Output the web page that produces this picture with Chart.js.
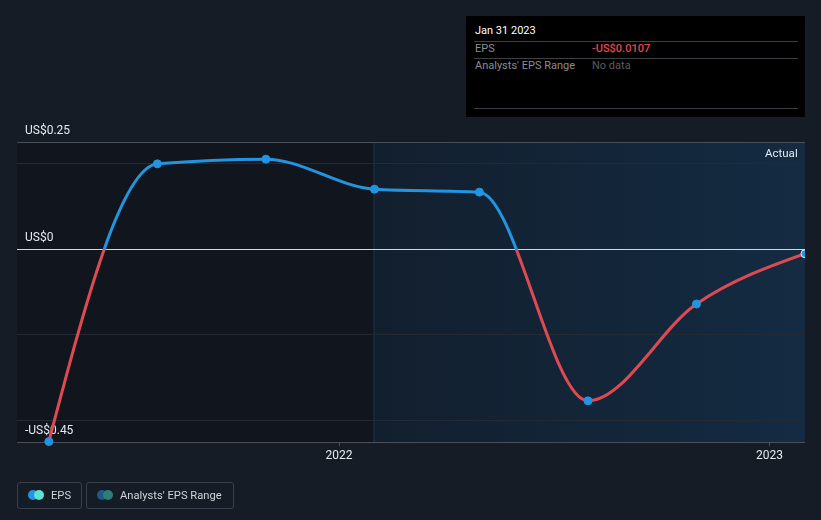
<!DOCTYPE html>
<html>
<head>
<meta charset="utf-8">
<script src="https://cdn.jsdelivr.net/npm/chart.js@4"></script>
<style>
  html, body { margin: 0; padding: 0; background: #161c26; }
  body { width: 821px; height: 520px; position: relative; overflow: hidden; font-family: Roboto, "Noto Sans", sans-serif; }
  #chart { position: absolute; left: 0; top: 0; }
  .actual { position: absolute; left: 765px; top: 146px; color: #e6e9ee; font-size: 11.5px; }
  .tip { position: absolute; left: 466px; top: 16px; width: 339px; height: 101px; background: #000; }
  .tip .title { position: absolute; left: 9px; top: 8px; color: #fff; font-size: 11px; }
  .tip .sep { position: absolute; left: 8px; width: 324px; height: 1px; background: #3c3f44; }
  .tip .lab { position: absolute; left: 9px; color: #8a8d92; font-size: 11px; }
  .tip .val { position: absolute; left: 126px; font-size: 11px; }
  .leg { position: absolute; top: 482px; height: 27px; border: 1px solid #3a404b; border-radius: 3px; color: #d0d3d8; font-size: 11.2px; line-height: 26px; box-sizing: border-box; }
  .dot { position: absolute; top: 7px; width: 10px; height: 10px; border-radius: 50%; }
</style>
</head>
<body>
<canvas id="chart" width="821" height="520"></canvas>
<div class="actual">Actual</div>
<div class="tip">
  <div class="title">Jan 31 2023</div>
  <div class="sep" style="top:25px"></div>
  <div class="lab" style="top:26px">EPS</div>
  <div class="val" style="top:26px;color:#e5484d;font-weight:500">-US$0.0107</div>
  <div class="sep" style="top:42px"></div>
  <div class="lab" style="top:43px">Analysts' EPS Range</div>
  <div class="val" style="top:43px;color:#5a5d62">No data</div>
  <div class="sep" style="top:92px"></div>
</div>
<div class="leg" style="left:17px;width:65px">
  <span class="dot" style="left:10px;background:#2394df"></span>
  <span class="dot" style="left:16px;background:#5de3d6"></span>
  <span style="position:absolute;left:33px">EPS</span>
</div>
<div class="leg" style="left:86px;width:148px">
  <span class="dot" style="left:10px;background:#1e5a86"></span>
  <span class="dot" style="left:16px;background:#2f7d7b"></span>
  <span style="position:absolute;left:33px">Analysts' EPS Range</span>
</div>
<script>
// period end dates and reported EPS (US$)
const dates = ['2021-04-30', '2021-07-31', '2021-10-31', '2022-01-31', '2022-04-30', '2022-07-31', '2022-10-31', '2023-01-31'];
const eps = [-0.449, 0.199, 0.210, 0.140, 0.133, -0.354, -0.128, -0.0107];

const xMinDate = '2021-04-03';
const xMaxDate = '2023-01-31';
const actualFrom = '2022-01-31';
const yearTicks = ['2022-01-01', '2023-01-01'];
const yearLabels = ['2022', '2023'];
const yTicks = [-0.45, -0.4, -0.2, 0, 0.2, 0.25];
const yLabels = { '-0.45': '-US$0.45', '0': 'US$0', '0.25': 'US$0.25' };

const BLUE = '#2394df';
const RED = '#df4a52';

const bgPlugin = {
  id: 'bg',
  beforeDraw(chart) {
    const { ctx, chartArea: a, scales } = chart;
    ctx.save();
    ctx.fillStyle = '#161c26';
    ctx.fillRect(0, 0, chart.width, chart.height);
    const sx = scales.x.getPixelForValue(Date.parse(actualFrom));
    ctx.fillStyle = '#11161e';
    ctx.fillRect(a.left, a.top, sx - a.left, a.bottom - a.top);
    const g = ctx.createLinearGradient(sx, 0, a.right, 0);
    g.addColorStop(0, '#121f2e');
    g.addColorStop(1, '#142b42');
    ctx.fillStyle = g;
    ctx.fillRect(sx, a.top, a.right - sx, a.bottom - a.top);
    ctx.fillStyle = '#1c3550';
    ctx.fillRect(Math.round(sx) - 0.5, a.top, 1, a.bottom - a.top);
    ctx.restore();
  }
};

// monotone-x curve with one-sided end slopes (steeper start like the original)
const curvePlugin = {
  id: 'curve',
  beforeDatasetsDraw(chart) {
    const meta = chart.getDatasetMeta(0);
    const pts = meta.data;
    const n = pts.length;
    if (n < 3) return;
    meta.dataset.updateControlPoints(chart.chartArea, 'x');
    const h = [], s = [], t = [];
    for (let i = 0; i < n - 1; i++) {
      h[i] = pts[i + 1].x - pts[i].x;
      s[i] = (pts[i + 1].y - pts[i].y) / h[i];
    }
    for (let i = 1; i < n - 1; i++) {
      const p = (s[i - 1] * h[i] + s[i] * h[i - 1]) / (h[i - 1] + h[i]);
      t[i] = (Math.sign(s[i - 1]) + Math.sign(s[i])) *
        Math.min(Math.abs(s[i - 1]), Math.abs(s[i]), 0.5 * Math.abs(p)) || 0;
    }
    t[0] = (3 * s[0] - t[1]) / 2;
    t[n - 1] = (3 * s[n - 2] - t[n - 2]) / 2;
    for (let i = 0; i < n - 1; i++) {
      const d = h[i] / 3;
      pts[i].cp2x = pts[i].x + d;
      pts[i].cp2y = pts[i].y + t[i] * d;
      pts[i + 1].cp1x = pts[i + 1].x - d;
      pts[i + 1].cp1y = pts[i + 1].y - t[i + 1] * d;
    }
    meta.dataset._path = undefined;
  }
};

function lineColor(c) {
  const chart = c.chart;
  const a = chart.chartArea;
  if (!a) return BLUE;
  const z = chart.scales.y.getPixelForValue(0);
  const f = Math.min(1, Math.max(0, (z - a.top) / (a.bottom - a.top)));
  const g = chart.ctx.createLinearGradient(0, a.top, 0, a.bottom);
  g.addColorStop(0, BLUE);
  g.addColorStop(f, BLUE);
  g.addColorStop(f, RED);
  g.addColorStop(1, RED);
  return g;
}

new Chart(document.getElementById('chart'), {
  type: 'line',
  data: {
    datasets: [{
      label: 'EPS',
      data: dates.map((d, i) => ({ x: Date.parse(d), y: eps[i] })),
      borderColor: lineColor,
      borderWidth: 3,
      cubicInterpolationMode: 'monotone',
      pointRadius: 4,
      pointBackgroundColor: BLUE,
      pointBorderColor: dates.map((d, i) => i === dates.length - 1 ? '#dfefff' : BLUE),
      pointBorderWidth: 1,
      clip: { left: 6, top: 6, right: 0, bottom: 6 }
    }]
  },
  plugins: [bgPlugin, curvePlugin],
  options: {
    responsive: false,
    animation: false,
    events: [],
    layout: { padding: { left: 17, right: 16, top: 142, bottom: 48 } },
    plugins: { legend: { display: false }, tooltip: { enabled: false } },
    scales: {
      x: {
        type: 'linear',
        min: Date.parse(xMinDate),
        max: Date.parse(xMaxDate),
        afterBuildTicks: s => { s.ticks = yearTicks.map(v => ({ value: Date.parse(v) })); },
        afterFit: s => { s.height = 30; },
        border: { display: false },
        grid: { drawOnChartArea: false, drawTicks: true, tickLength: 4, color: '#4b5058' },
        ticks: {
          color: '#e6e9ee',
          font: { family: 'Roboto', size: 12 },
          padding: 3,
          maxRotation: 0,
          callback: (v, i) => yearLabels[i]
        }
      },
      y: {
        min: -0.45,
        max: 0.25,
        afterBuildTicks: s => { s.ticks = yTicks.map(v => ({ value: v })); },
        afterFit: s => { s.width = 0; },
        border: { display: false },
        grid: {
          drawTicks: false,
          lineWidth: 1,
          color: c => {
            const v = c.tick.value;
            if (v === 0) return '#d4d7dc';
            if (v === 0.25 || v === -0.45) return '#4b5058';
            return '#232a34';
          }
        },
        ticks: {
          mirror: true,
          padding: 8,
          labelOffset: -11,
          color: '#e6e9ee',
          font: { family: 'Roboto', size: 12 },
          callback: v => yLabels[String(v)] || ''
        }
      }
    }
  }
});
</script>
</body>
</html>
